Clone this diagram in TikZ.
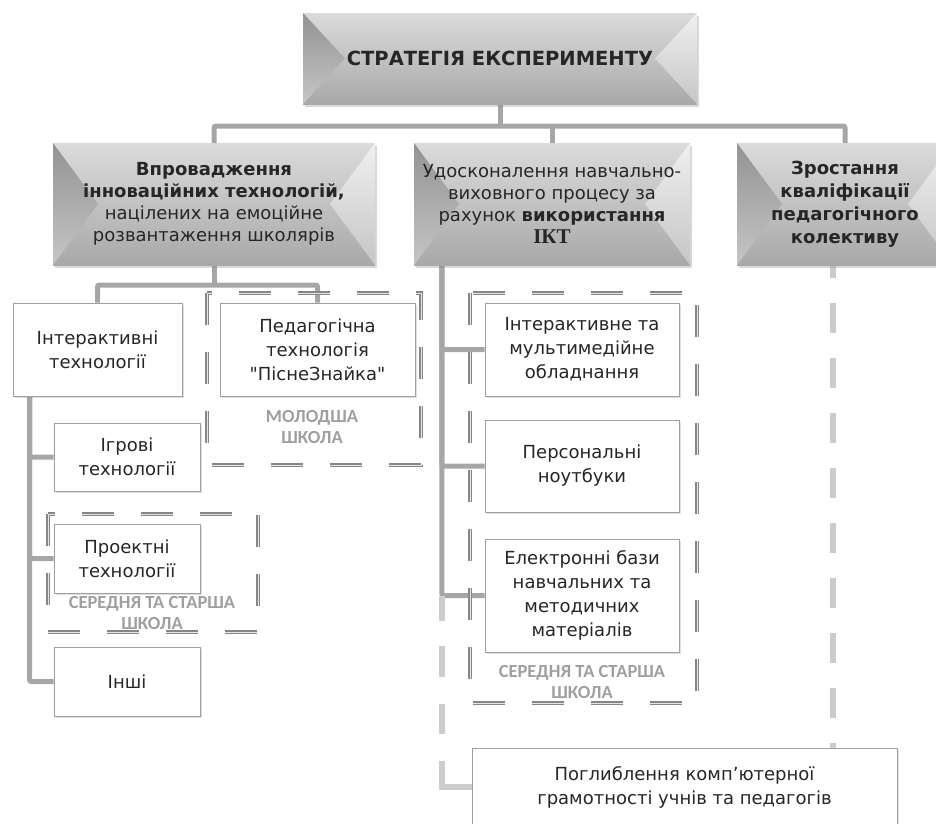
\documentclass[tikz,border=0pt]{standalone}
\usepackage{fontspec}
\setmainfont{DejaVu Sans}
\newfontfamily\plainfont{DejaVu Sans}
\newfontfamily\grpfont{Carlito}
\newfontfamily\iktfont{Liberation Serif}
\usetikzlibrary{shadows,calc}
\pgfdeclarelayer{bg}
\pgfsetlayers{bg,main}
\begin{document}
\begin{tikzpicture}[x=1pt,y=-1pt,
  txt/.style={text=black!85, font=\fontsize{18}{23}\selectfont, align=center, inner sep=0pt},
  conn/.style={draw=gray!70, line width=5pt, rounded corners=2pt},
  lconn/.style={draw=gray!40, line width=6pt},
  grp/.style={draw=gray!95, line width=1.9pt, double=white!80!gray, double distance=0.9pt, dash pattern=on 32pt off 27pt},
  glabel/.style={text=gray!75, font=\grpfont\bfseries\fontsize{18.5}{21}\selectfont, align=center, inner sep=0pt},
  wbox/.style={txt, font=\fontsize{18}{24}\selectfont, draw=gray!75, line width=1pt, fill=white,
     drop shadow={opacity=0.25, shadow xshift=1.5pt, shadow yshift=-1.5pt}},
  bevel/.default=45,
  bevel/.style={txt, top color=gray!28, bottom color=gray!68,
     drop shadow={opacity=0.3, shadow xshift=2pt, shadow yshift=-3pt},
     path picture={
       \shade[top color=gray!85, bottom color=gray!45]
         (path picture bounding box.north west) -- (path picture bounding box.south west)
         -- ($(path picture bounding box.west)+(#1,0)$) -- cycle;
       \shade[top color=gray!12, bottom color=gray!45]
         (path picture bounding box.north east) -- (path picture bounding box.south east)
         -- ($(path picture bounding box.east)+(-#1,0)$) -- cycle;
     }}
]
\useasboundingbox (0,0) rectangle (936,823);

% ---------- level 1 & 2 boxes ----------
\node[bevel=42, minimum width=394pt, minimum height=91pt, font=\bfseries\fontsize{19.5}{22}\selectfont] (top) at (500,58.5) {СТРАТЕГІЯ ЕКСПЕРИМЕНТУ};
\node[bevel, minimum width=322pt, minimum height=122pt, font=\fontsize{18}{22}\selectfont] (l2a) at (214,204)
  {\textbf{Впровадження}\\\textbf{інноваційних технологій,}\\націлених на емоційне\\розвантаження школярів};
\node[bevel, minimum width=276pt, minimum height=122pt, font=\fontsize{18}{22}\selectfont] (l2b) at (552,204)
  {Удосконалення навчально-\\виховного процесу за\\рахунок \textbf{використання}\\{\iktfont\bfseries\fontsize{21}{22}\selectfont ІКТ}};
\node[bevel, minimum width=216pt, minimum height=122pt, font=\bfseries\fontsize{18}{23}\selectfont] (l2c) at (845,204)
  {Зростання\\кваліфікації\\педагогічного\\колективу};

% ---------- level 3 boxes ----------
\node[wbox, minimum width=169pt, minimum height=93pt] (int) at (97.5,349.5) {Інтерактивні\\технології};
\node[wbox, minimum width=195pt, minimum height=93pt] (ped) at (317.5,349.5) {Педагогічна\\технологія\\{\plainfont"}ПіснеЗнайка{\plainfont"}};
\node[wbox, minimum width=146pt, minimum height=68pt] (igr) at (127,457) {Ігрові\\технології};
\node[wbox, minimum width=146pt, minimum height=69pt] (proj) at (127,558.5) {Проектні\\технології};
\node[wbox, minimum width=146pt, minimum height=69pt] (inshi) at (127,681.5) {Інші};
\node[wbox, minimum width=194pt, minimum height=93pt] (ie) at (582,349.5) {Інтерактивне та\\мультимедійне\\обладнання};
\node[wbox, minimum width=194pt, minimum height=92pt] (pn) at (582,466) {Персональні\\ноутбуки};
\node[wbox, minimum width=194pt, minimum height=113pt] (eb) at (582,595.5) {Електронні бази\\навчальних та\\методичних\\матеріалів};
\node[wbox, minimum width=425pt, minimum height=78pt] (pog) at (684.5,787) {Поглиблення комп’ютерної\\грамотності учнів та педагогів};

% ---------- connectors (background layer) ----------
\coordinate (bus) at (500,126);
\coordinate (bus2) at (214,285);
\coordinate (lv) at ($(int.south west)+(17,0)$);
\coordinate (mv) at ($(l2b.south west)+(28,0)$);
\coordinate (rv) at ($(l2c.south west)+(96,0)$);
\begin{pgfonlayer}{bg}
  \draw[conn] (top.south) -- (bus);
  \draw[conn] (l2a.north) |- (bus) -| (l2c.north);
  \draw[conn] (l2b.north) -- (l2b.north |- bus);
  \draw[conn] (l2a.south) -- (bus2);
  \draw[conn] (int.north) |- (bus2) -| (ped.north);
  \draw[conn] (lv) |- (igr.west);
  \draw[conn] (lv) |- (proj.west);
  \draw[conn] (lv) |- (inshi.west);
  \draw[conn] (mv) |- (ie.west);
  \draw[conn] (mv) |- (pn.west);
  \draw[conn] (mv) |- (eb.west);
  \draw[lconn, dash pattern=on 25pt off 25pt on 31pt off 27pt on 30pt off 27pt on 70pt off 10pt]
     (mv |- eb.west) |- (pog.west);
  \draw[lconn, dash pattern=on 30pt off 25pt, dash phase=17pt] (rv) -- (rv |- pog.north);
\end{pgfonlayer}

% ---------- groups ----------
\draw[grp] (207,293) rectangle (421,465);
\draw[grp] (48,514) rectangle (258,632);
\draw[grp] (470,293) rectangle (697,703);
\node[glabel] (g1) at (312,427) {МОЛОДША\\ШКОЛА};
\node[glabel] (g2) at (152,613) {СЕРЕДНЯ ТА СТАРША\\ШКОЛА};
\node[glabel] (g3) at (582,682) {СЕРЕДНЯ ТА СТАРША\\ШКОЛА};

\end{tikzpicture}
\end{document}
